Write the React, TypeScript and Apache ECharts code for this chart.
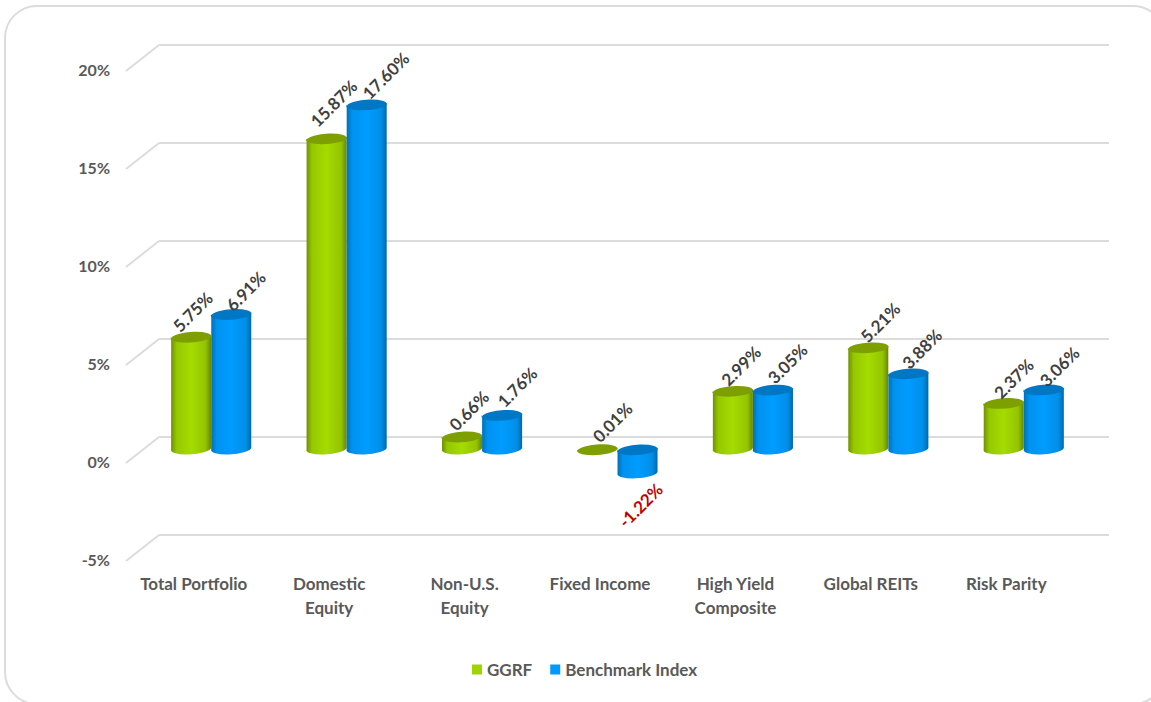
import React, { useEffect, useRef } from "react";
import * as echarts from "echarts";

const categories = ["Total Portfolio", "Domestic\nEquity", "Non-U.S.\nEquity", "Fixed Income", "High Yield\nComposite", "Global REITs", "Risk Parity"];
const ggrf = [5.75, 15.87, 0.66, 0.01, 2.99, 5.21, 2.37];
const benchmark = [6.91, 17.6, 1.76, -1.22, 3.05, 3.88, 3.06];
const tickValues = [-5, 0, 5, 10, 15, 20];

// hand-placed nudges of the data labels, [dx, dy] in px from the end of each cylinder
const ggrfNudge = [[1.5, -25], [7, -35], [7, -26], [15, -27], [8, -25], [12, -25], [10, -24.5]];
const benchNudge = [[14.5, -23], [19, -29], [15, -28], [3, 32], [14.5, -26], [13.5, -24.5], [15.5, -23]];

const FONT = "Lato, sans-serif";
const WALL_W = 950;
const GRID_W = 948;
const GRID_H = 490;
const TILT = 4;
const RY = 5.5;

const gradient = (stops: string[]) =>
  new echarts.graphic.LinearGradient(0, 0, 1, 0, stops.map((color, i) => ({ offset: [0, 0.14, 0.5, 0.86, 1][i], color })));

function cylinderSeries(name: string, values: number[], nudges: number[][], side: number, color: string, capColor: string, stops: string[]) {
  return {
    type: "custom",
    name,
    xAxisIndex: 1,
    yAxisIndex: 1,
    itemStyle: { color },
    data: values.map((v, i) => [i, v]),
    renderItem: (params: any, api: any) => {
      const i = api.value(0);
      const v = api.value(1);
      const [mid, vy] = api.coord([i, v]);
      const [, zy] = api.coord([i, 0]);
      const w = api.size([1, 0])[0] * 0.296;
      const cx = mid + (side * w) / 2;
      const rad = (TILT * Math.PI) / 180;
      const dx = (w / 2) * Math.cos(rad);
      const dy = (w / 2) * Math.sin(rad);
      const rx = w / 2;
      const topY = Math.min(vy, zy);
      const botY = Math.max(vy, zy);
      const arc = `A ${rx} ${RY} ${-TILT} 0 1`;
      const body = `M ${cx - dx} ${topY + dy} L ${cx + dx} ${topY - dy} L ${cx + dx} ${botY - dy} ${arc} ${cx - dx} ${botY + dy} Z`;
      const cap = `M ${cx - dx} ${topY + dy} ${arc} ${cx + dx} ${topY - dy} ${arc} ${cx - dx} ${topY + dy} Z`;
      const [nx, ny] = nudges[i];
      return {
        type: "group",
        children: [
          { type: "path", shape: { pathData: body }, style: { fill: gradient(stops) } },
          { type: "path", shape: { pathData: cap }, style: { fill: capColor } },
          {
            type: "text",
            x: cx + nx,
            y: (v < 0 ? botY : topY) + ny,
            rotation: Math.PI / 4,
            z2: 10,
            style: {
              text: v.toFixed(2) + "%",
              fill: v < 0 ? "#c00000" : "#404040",
              font: `700 17px ${FONT}`,
              align: "center",
              verticalAlign: "middle",
            },
          },
        ],
      };
    },
  };
}

const wallDiagonals = {
  type: "custom",
  name: "wall",
  xAxisIndex: 0,
  yAxisIndex: 0,
  silent: true,
  data: tickValues.map((t) => [0, t]),
  renderItem: (params: any, api: any) => {
    const y = api.coord([0, api.value(1)])[1];
    const x = params.coordSys.x;
    return {
      type: "line",
      shape: { x1: x, y1: y, x2: x - 33, y2: y + 26 },
      style: { stroke: "#dcdcdc", lineWidth: 2 },
    };
  },
};

const hiddenX = (gridIndex: number) => ({
  type: "category" as const,
  gridIndex,
  data: categories,
  axisLine: { show: false },
  axisTick: { show: false },
  axisLabel: { show: false },
  splitLine: { show: false },
});
const valueY = (gridIndex: number) => ({
  type: "value" as const,
  gridIndex,
  min: -5,
  max: 20,
  interval: 5,
  axisLine: { show: false },
  axisTick: { show: false },
  axisLabel: { show: false },
  splitLine: { show: false },
});

export default function App() {
  const ref = useRef<HTMLDivElement>(null);
  useEffect(() => {
    document.body.style.margin = "0";
    document.body.style.overflow = "hidden";
    const chart = echarts.init(ref.current!, undefined, { renderer: "svg" });
    chart.setOption({
      animation: false,
      backgroundColor: "#ffffff",
      textStyle: { fontFamily: FONT },
      graphic: [
        {
          type: "rect",
          silent: true,
          z: -1,
          shape: { x: 5, y: 6, width: 1160, height: 698, r: 32 },
          style: { fill: "none", stroke: "#dcdcdc", lineWidth: 2 },
        },
      ],
      grid: [
        { left: 159, top: 45, width: WALL_W, height: GRID_H },
        { left: 143.5, top: 57.5, width: GRID_W, height: GRID_H },
        { left: 126, top: 69.5, width: GRID_W, height: GRID_H },
      ],
      xAxis: [
        hiddenX(0),
        hiddenX(1),
        {
          ...hiddenX(2),
          axisLabel: { show: true, interval: 0, margin: 11.5, color: "#595959", fontFamily: FONT, fontSize: 17, fontWeight: 700, lineHeight: 24 },
        },
      ],
      yAxis: [
        { ...valueY(0), splitLine: { show: true, lineStyle: { color: "#dcdcdc", width: 2 } } },
        valueY(1),
        {
          ...valueY(2),
          axisLabel: { show: true, margin: 16, color: "#595959", fontFamily: FONT, fontSize: 16, fontWeight: 700, formatter: "{value}%" },
        },
      ],
      legend: {
        data: ["GGRF", "Benchmark Index"],
        left: 467,
        top: 656,
        icon: "rect",
        itemWidth: 10,
        itemHeight: 10,
        itemGap: 18,
        textStyle: { color: "#595959", fontFamily: FONT, fontSize: 17, fontWeight: 700 },
      },
      series: [
        wallDiagonals,
        cylinderSeries("GGRF", ggrf, ggrfNudge, -1, "#9fd400", "#7d9f00", ["#6f9000", "#96c800", "#a5dc00", "#94c400", "#678600"]),
        cylinderSeries("Benchmark Index", benchmark, benchNudge, 1, "#0099ff", "#0077c4", ["#0070b4", "#0092f0", "#009cff", "#008fe8", "#0068a8"]),
      ],
    } as any);
    return () => chart.dispose();
  }, []);
  return <div ref={ref} style={{ width: 1151, height: 702 }} />;
}
